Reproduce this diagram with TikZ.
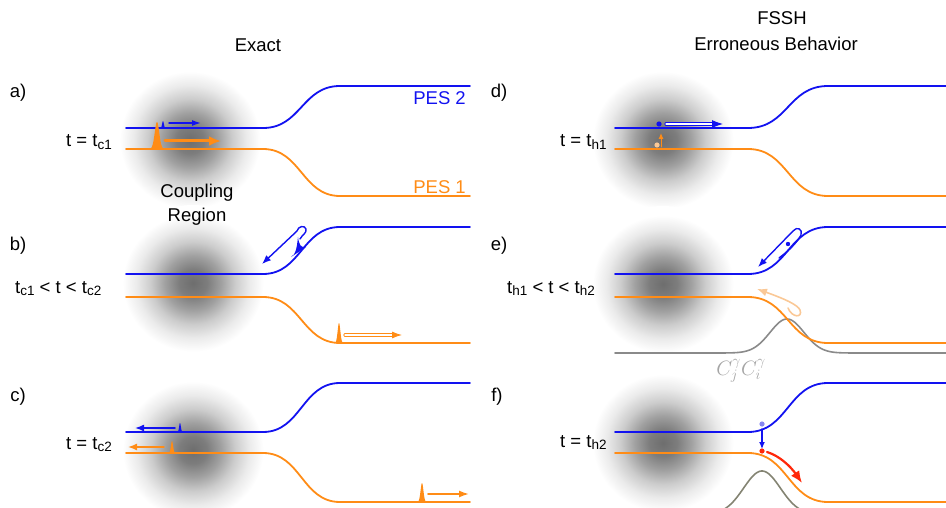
\documentclass[tikz,border=0pt]{standalone}
\usepackage{fontspec}
\setmainfont{Liberation Sans}
\usetikzlibrary{arrows.meta}

\definecolor{pesblue}{RGB}{18,18,240}
\definecolor{pesorange}{RGB}{255,140,22}
\definecolor{paleorange}{RGB}{250,200,150}
\definecolor{paleblue}{RGB}{135,135,240}
\definecolor{hopred}{RGB}{255,40,10}
\definecolor{cohgray}{RGB}{138,138,138}
\definecolor{cohgrayb}{RGB}{132,132,115}
\definecolor{labgray}{RGB}{165,165,165}

% soft grey spot marking the coupling region
\pgfdeclareradialshading{couplingblob}{\pgfpoint{0bp}{0bp}}{%
  color(0bp)=(black!57); color(4.4bp)=(black!51); color(8.8bp)=(black!37);
  color(13.2bp)=(black!20); color(17.6bp)=(black!8); color(22bp)=(white);
  color(50bp)=(white)}

% lowered index in the running sans font
\newcommand\sbs[1]{\raisebox{-2.5pt}{\fontsize{13.5}{14}\selectfont #1}}

% filled narrow wavepacket: colour, centre x, base y, height, width
\newcommand\wpeak[5]{%
  \fill[#1] plot[domain={#2-3*#5}:{#2+3*#5}, samples=40]
    (\x, {#3-#4*exp(-((\x-#2)/#5)^2)}) -- cycle;}

\tikzset{
  lab/.style={font=\fontsize{18.5}{24}\selectfont, inner sep=0pt},
  pesb/.style={draw=pesblue, line width=1.8pt},
  peso/.style={draw=pesorange, line width=1.8pt},
}

\begin{document}
\begin{tikzpicture}[x=1pt, y=-1pt, line cap=round, line join=round]
\useasboundingbox (0,0) rectangle (946,508);
\clip (0,0) rectangle (946,508);

% coupling regions
\foreach \cx/\cy in {190/140, 193/283, 193/450, 663/140, 663/284, 663/443}
  \shade[shading=couplingblob] (\cx,\cy) ellipse [x radius=80pt, y radius=78pt];

% ---------- left column: exact dynamics ----------
% a)
\draw[pesb] (126,128) -- (263,128) .. controls +(38,0) and +(-38,0) .. (340,86) -- (470,86);
\draw[peso] (126,149) -- (263,149) .. controls +(38,0) and +(-38,0) .. (340,196) -- (470,196);
% b)
\draw[pesb] (126,274) -- (263,274) .. controls +(38,0) and +(-38,0) .. (340,227) -- (470,227);
\draw[peso] (126,297) -- (263,297) .. controls +(38,0) and +(-38,0) .. (340,343) -- (470,343);
% c)
\draw[pesb] (126,432) -- (263,432) .. controls +(38,0) and +(-38,0) .. (340,383) -- (470,383);
\draw[peso] (126,453) -- (263,453) .. controls +(38,0) and +(-38,0) .. (340,502) -- (470,502);

% ---------- right column: surface hopping ----------
% d)
\draw[pesb] (615,128) -- (748,128) .. controls +(40,0) and +(-40,0) .. (828,86) -- (946,86);
\draw[peso] (615,149) -- (748,149) .. controls +(40,0) and +(-40,0) .. (828,196) -- (946,196);
% e)
\draw[cohgray, line width=1.6pt] (615,353) -- (720,353)
  -- plot[domain=720:855, samples=90] (\x, {353-34*exp(-((\x-787)/24)^2)}) -- (946,353);
\draw[pesb] (615,274) -- (748,274) .. controls +(40,0) and +(-40,0) .. (828,227) -- (946,227);
\draw[peso] (615,297) -- (748,297) .. controls +(40,0) and +(-40,0) .. (828,343) -- (946,343);
% f)
\draw[cohgrayb, line width=1.6pt]
  plot[domain=700:830, samples=90] (\x, {514.4-43.4*exp(-((\x-762)/26)^2)});
\draw[pesb] (615,432) -- (748,432) .. controls +(40,0) and +(-40,0) .. (828,383) -- (946,383);
\draw[peso] (615,453) -- (748,453) .. controls +(40,0) and +(-40,0) .. (828,502) -- (946,502);

% ---------- wavepackets and their motion ----------
% a)
\wpeak{pesorange}{157}{149}{27}{3.2}
\wpeak{pesblue}{163}{128}{7}{1.2}
\draw[pesorange, line width=3pt, -{Latex[length=12pt,width=10pt]}] (165,141) -- (221,141);
\draw[pesblue, line width=1.4pt, -{Latex[length=9pt,width=6pt]}] (169,123) -- (201,123);
% b)
\fill[pesblue] (291,257) .. controls (296,255) and (297,246) .. (298,237)
  .. controls (299,245) and (301,248) .. (306,247) -- cycle;
\draw[pesblue, line width=1.4pt, -{Latex[length=9pt,width=7pt]}]
  (300,239) .. controls (302,235) and (307,233) .. (306,229)
  .. controls (305,225) and (298,226) .. (297,231) -- (262,264);
\wpeak{pesorange}{339}{343}{20}{1.9}
\draw[pesorange, line width=0.9pt, double=white, double distance=1.4pt,
  -{Latex[length=10pt,width=7pt]}] (345,335) -- (402,335);
% c)
\wpeak{pesblue}{180}{432}{9}{1.2}
\draw[pesblue, line width=1.6pt, -{Latex[length=9pt,width=7pt]}] (175,428) -- (135,428);
\wpeak{pesorange}{172}{453}{12}{1.5}
\draw[pesorange, line width=1.4pt, -{Latex[length=9pt,width=7pt]}] (164,447) -- (128,447);
\wpeak{pesorange}{422}{502}{19}{2}
\draw[pesorange, line width=1.6pt, -{Latex[length=10pt,width=7pt]}] (428,494) -- (469,494);

% d)
\fill[pesblue] (659,124) circle (2.6pt);
\draw[pesblue, line width=0.9pt, double=white, double distance=1.3pt,
  -{Latex[length=11pt,width=8pt]}] (666,124) -- (723,124);
\fill[paleorange] (657,145) circle (2.6pt);
\draw[pesorange, line width=1pt, -{Latex[length=6pt,width=5pt]}] (661,147) -- (661,133);
% e)
\fill[pesblue] (788,244) circle (2.2pt);
\draw[pesblue, line width=1.4pt, -{Latex[length=9pt,width=7pt]}]
  (779,258) .. controls (790,250) and (798,241) .. (801,235)
  .. controls (803,229) and (797,226) .. (793,231) -- (758,267);
\draw[paleorange, line width=1.6pt, -{Latex[length=10pt,width=8pt]}]
  (788,308) .. controls (792,318) and (803,318) .. (800,310)
  .. controls (798,305) and (785,299) .. (757,289);
% f)
\fill[paleblue] (762,424) circle (2.6pt);
\draw[pesblue, line width=1.2pt, -{Latex[length=7pt,width=6pt]}] (762,429) -- (762,449);
\fill[hopred] (762,451) circle (2.6pt);
\draw[hopred, line width=2.2pt, -{Latex[length=12pt,width=10pt]}]
  (767,452) .. controls (780,456) and (791,467) .. (802,483);

% ---------- labels ----------
\node[lab] (exact) at (258,45) {Exact};
\node[lab] (fssh) at (782,18) {FSSH};
\node[lab] (errb) at (776,44) {Erroneous Behavior};
\node[lab, text=pesblue, anchor=east] (pes2) at (466,98) {PES 2};
\node[lab, text=pesorange, anchor=east] (pes1) at (466,187) {PES 1};
\node[lab, align=center] (coupling) at (197,205) {Coupling\\Region};
\node[lab, text=labgray, font=\fontsize{19.5}{19.5}\selectfont] (coh) at (741,371) {$C_j^{\gamma}C_i^{\gamma}$};

\node[lab] (la) at (18,93) {a)};
\node[lab] (lb) at (18,246) {b)};
\node[lab] (lc) at (18,397) {c)};
\node[lab] (ld) at (499,93) {d)};
\node[lab] (le) at (499,246) {e)};
\node[lab] (lf) at (497,397) {f)};

\node[lab, anchor=base west] (ta) at (66,147) {t = t\sbs{c1}};
\node[lab, anchor=base west] (tb) at (15,293) {t\sbs{c1} < t < t\sbs{c2}};
\node[lab, anchor=base west] (tc) at (66,449) {t = t\sbs{c2}};
\node[lab, anchor=base west] (td) at (560,147) {t = t\sbs{h1}};
\node[lab, anchor=base west] (te) at (507,293) {t\sbs{h1} < t < t\sbs{h2}};
\node[lab, anchor=base west] (tf) at (560,447) {t = t\sbs{h2}};
\end{tikzpicture}
\end{document}
